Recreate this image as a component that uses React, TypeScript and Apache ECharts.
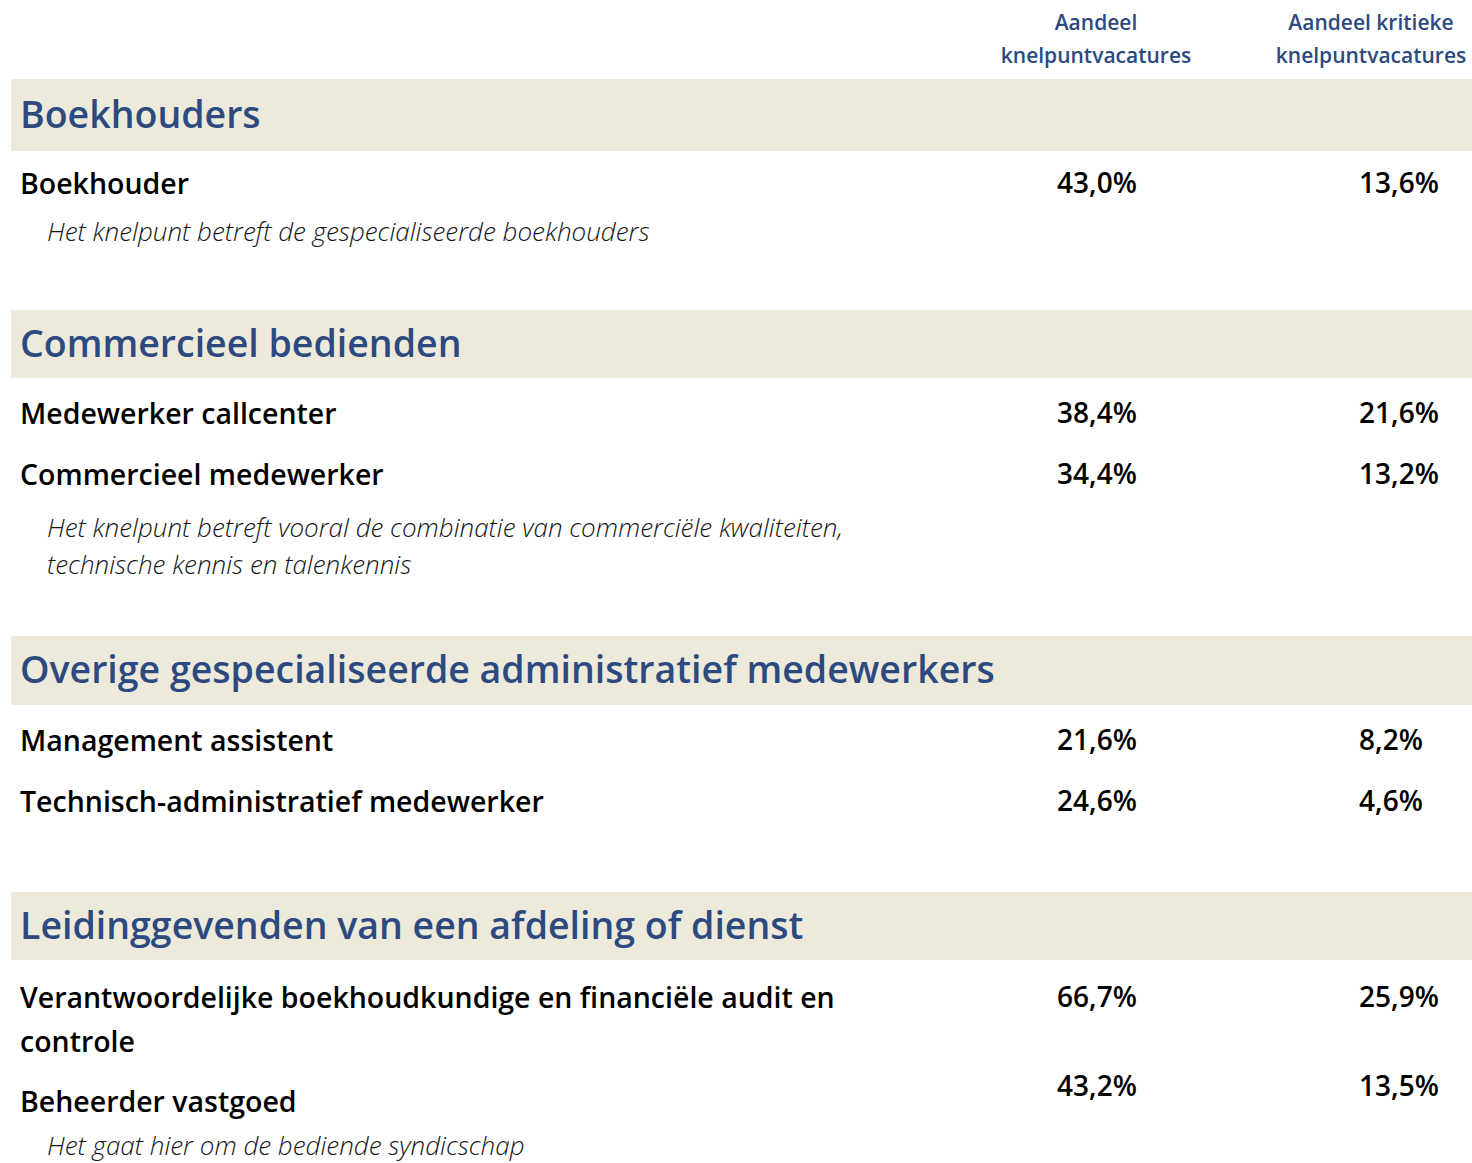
import React, { useEffect, useRef } from "react";
import * as echarts from "echarts";

// ---- data ----
const columnHeaders = ["Aandeel\nknelpuntvacatures", "Aandeel kritieke\nknelpuntvacatures"];
const groups = [
  "Boekhouders",
  "Commercieel bedienden",
  "Overige gespecialiseerde administratief medewerkers",
  "Leidinggevenden van een afdeling of dienst",
];
const occupations = [
  "Boekhouder",
  "Medewerker callcenter",
  "Commercieel medewerker",
  "Management assistent",
  "Technisch-administratief medewerker",
  "Verantwoordelijke boekhoudkundige en financiële audit en\ncontrole",
  "Beheerder vastgoed",
];
const shareKnelpunt = [43.0, 38.4, 34.4, 21.6, 24.6, 66.7, 43.2];
const shareKritiek = [13.6, 21.6, 13.2, 8.2, 4.6, 25.9, 13.5];
const notes = [
  "Het knelpunt betreft de gespecialiseerde boekhouders",
  "Het knelpunt betreft vooral de combinatie van commerciële kwaliteiten,\ntechnische kennis en talenkennis",
  "Het gaat hier om de bediende syndicschap",
];

// ---- layout (positions only) ----
const bandTop = [79, 310, 636, 892];
const bandHeight = [72, 68, 69, 68];
const labelY = [183, 413, 474, 740, 801, 997, 1101];
const valueY = [182, 412, 473, 739, 800, 996, 1085];
const noteY = [231, 527, 1145];
const headerX = [1096, 1371];
const valueX = [1057, 1359];

const FONT = "'Open Sans', 'Noto Sans', sans-serif";
const BLUE = "#2c4a80";
const BAND = "#edeadc";

const fmt = (v: number) => v.toFixed(1).replace(".", ",") + "%";

export default function App() {
  const ref = useRef<HTMLDivElement>(null);
  useEffect(() => {
    document.body.style.margin = "0";
    if (!ref.current) return;
    const chart = echarts.init(ref.current, undefined, { renderer: "svg" });
    const elements: any[] = [];

    columnHeaders.forEach((h, i) => {
      h.split("\n").forEach((line, k) => {
        elements.push({
          type: "text",
          x: headerX[i],
          y: 22 + k * 33,
          style: {
            text: line,
            fontFamily: FONT,
            fontSize: 21,
            fontWeight: 600,
            fill: BLUE,
            align: "center",
            verticalAlign: "middle",
          },
        });
      });
    });

    groups.forEach((g, i) => {
      elements.push({
        type: "rect",
        shape: { x: 11, y: bandTop[i], width: 1461, height: bandHeight[i] },
        style: { fill: BAND },
        z: 0,
      });
      elements.push({
        type: "text",
        x: 20,
        y: bandTop[i] + bandHeight[i] / 2 - 2,
        z: 1,
        style: {
          text: g,
          fontFamily: FONT,
          fontSize: 37.5,
          fontWeight: 600,
          fill: BLUE,
          align: "left",
          verticalAlign: "middle",
        },
      });
    });

    occupations.forEach((o, i) => {
      o.split("\n").forEach((line, k) => {
        elements.push({
          type: "text",
          x: 20,
          y: labelY[i] + k * 44,
          style: {
            text: line,
            fontFamily: FONT,
            fontSize: 28.5,
            fontWeight: 600,
            fill: "#000",
            align: "left",
            verticalAlign: "middle",
          },
        });
      });
      [shareKnelpunt[i], shareKritiek[i]].forEach((v, c) => {
        elements.push({
          type: "text",
          x: valueX[c],
          y: valueY[i],
          style: {
            text: fmt(v),
            fontFamily: FONT,
            fontSize: 28,
            fontWeight: 600,
            fill: "#000",
            align: "left",
            verticalAlign: "middle",
          },
        });
      });
    });

    notes.forEach((n, i) => {
      n.split("\n").forEach((line, k) => {
        elements.push({
          type: "text",
          x: 47,
          y: noteY[i] + k * 37,
          style: {
            text: line,
            fontFamily: FONT,
            fontSize: 26,
            lineHeight: 26,
            fontWeight: 300,
            fontStyle: "italic",
            fill: "#151515",
            align: "left",
            verticalAlign: "middle",
          },
        });
      });
    });

    chart.setOption({
      animation: false,
      backgroundColor: "#ffffff",
      graphic: { elements },
    });
    return () => chart.dispose();
  }, []);
  return <div ref={ref} style={{ width: 1472, height: 1163 }} />;
}
